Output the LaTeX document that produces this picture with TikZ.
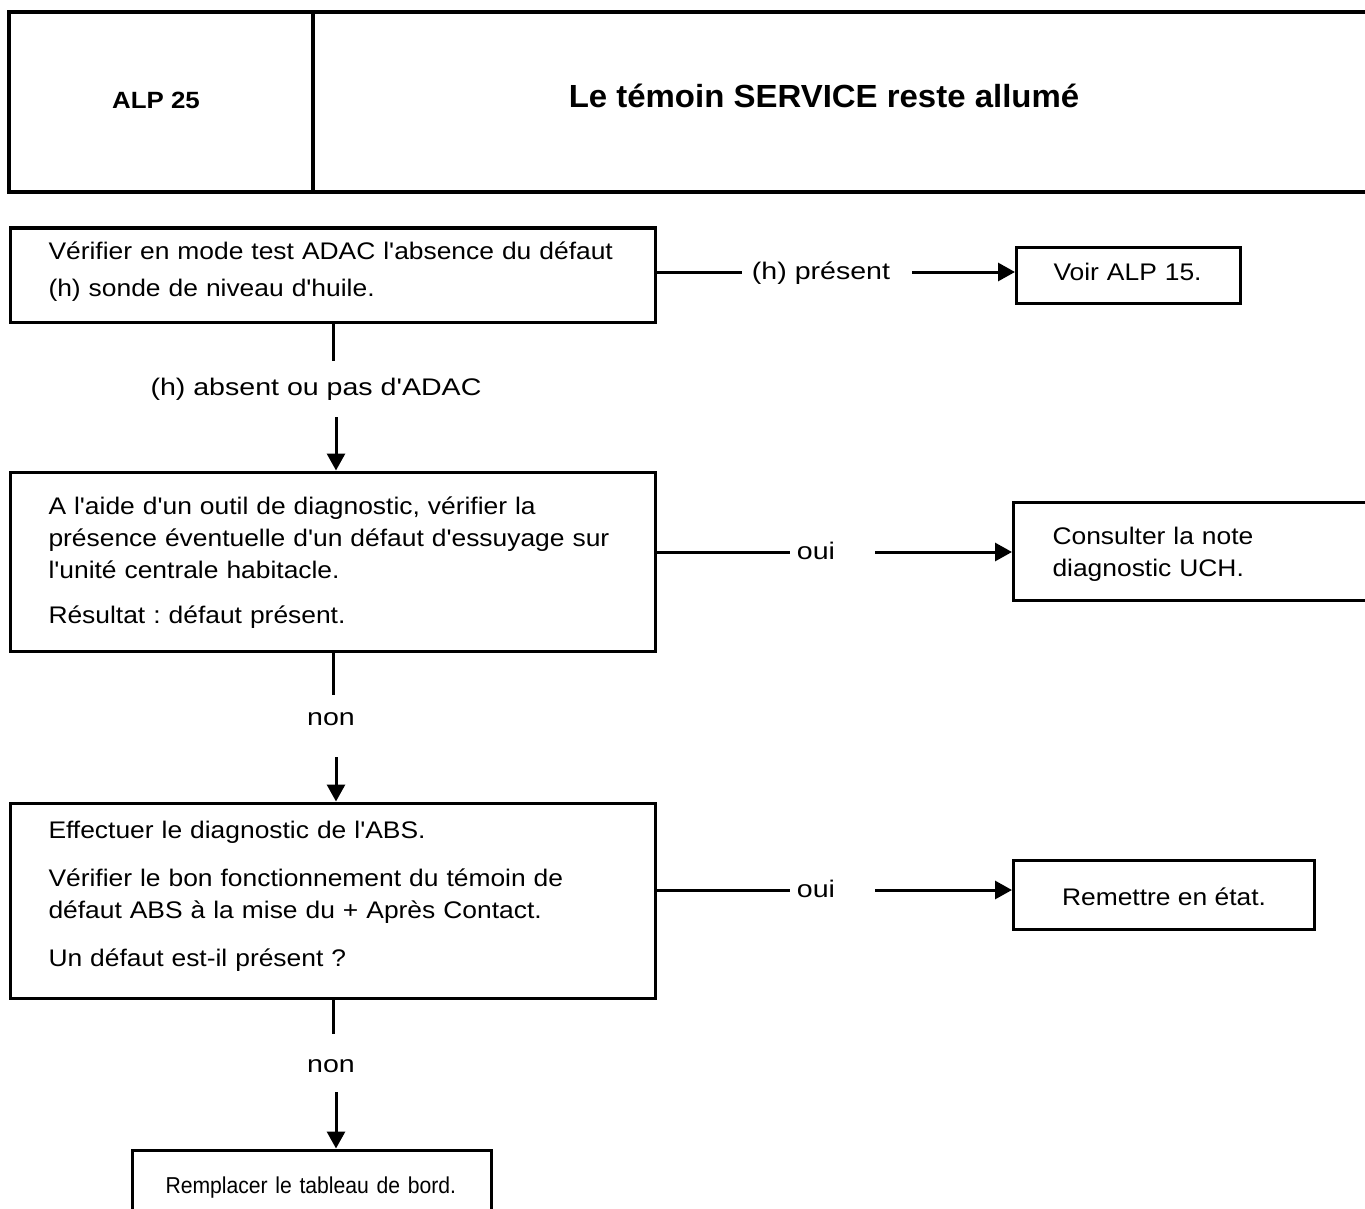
\documentclass[tikz,border=0pt]{standalone}
\usepackage{fontspec}
\setmainfont{Liberation Sans}[FakeStretch=1.10,Ligatures=TeXOff]
\newfontfamily\headfont{Liberation Sans}[FakeStretch=1.03,Ligatures=TeXOff]
\newfontfamily\lblfont{Liberation Sans}[FakeStretch=1.19,Ligatures=TeXOff]
\newfontfamily\narrowfont{Liberation Sans}[FakeStretch=0.92,Ligatures=TeXOff]
\usetikzlibrary{arrows.meta}
\newcommand{\bodysize}{\fontsize{24}{32}\selectfont\frenchspacing\hyphenpenalty=10000 }

\begin{document}
\begin{tikzpicture}[x=1pt,y=-1pt,
  conn/.style={line width=3pt},
  arr/.style={line width=3pt,-{Triangle[length=17pt,width=18pt]}},
  box/.style={draw,line width=3pt,inner ysep=0pt,font=\bodysize},
  tbox/.style={box,align=left,text width=#1},
  lbl/.style={font=\bodysize\lblfont,inner xsep=0pt,inner ysep=0pt,text height=17pt,text depth=3pt},
]
\useasboundingbox (0,0) rectangle (1365,1209);
\clip (0,0) rectangle (1365,1209);

% title block
\draw[line width=3.5pt] (9,12) rectangle (1390,192);
\draw[line width=3.5pt] (313,12) -- (313,192);
\node[anchor=base,inner sep=0pt,font=\fontsize{23.5}{28}\selectfont\bfseries] (code) at (156,109) {ALP 25};
\node[anchor=base,inner sep=0pt,font=\headfont\fontsize{32}{36}\selectfont\bfseries] (title) at (824,108) {Le témoin SERVICE reste allumé};

% step 1
\node[tbox=569pt,inner xsep=38pt,text height=31pt,text depth=63pt,anchor=base west] (b1) at (9,259)
  {Vérifier en mode test ADAC l'absence du défaut\\[5pt](h) sonde de niveau d'huile.};
\node[tbox=170pt,inner xsep=27pt,text height=33pt,text depth=23pt,anchor=base west] (v1) at (1015,280)
  {\hspace*{10pt}Voir ALP 15.};
\node[lbl] (l1) at (821,272) {(h) présent};
\draw[conn] (b1.east |- l1.west) -- ([xshift=-10pt]l1.west);
\draw[arr] ([xshift=22pt]l1.east) -- (v1.west |- l1.east);

\node[lbl] (l2) at (316,388) {(h) absent ou pas d'ADAC};
\draw[conn] (b1.south) -- ++(0,37);
\coordinate (a2) at (336,417);

% step 2
\node[tbox=569pt,inner xsep=38pt,text height=42.5pt,text depth=136.5pt,anchor=base west] (b2) at (9,514.5)
  {A l'aide d'un outil de diagnostic, vérifier la\\présence éventuelle d'un défaut d'essuyage sur\\l'unité centrale habitacle.\\[12.5pt]Résultat : défaut présent.};
\draw[arr] (a2) -- (a2 |- b2.north);
\node[tbox=290pt,inner xsep=39pt,text height=42pt,text depth=56pt,anchor=base west] (u1) at (1012,544)
  {Consulter la note\\diagnostic UCH.};
\node[lbl] (o1) at (816,552) {oui};
\draw[conn] (b2.east |- o1.west) -- ([xshift=-7pt]o1.west);
\draw[arr] ([xshift=40pt]o1.east) -- (u1.west |- o1.east);

\node[lbl] (n1) at (331,718) {non};
\draw[conn] (b2.south) -- ++(0,42);
\coordinate (a3) at (336,757);

% step 3
\node[tbox=569pt,inner xsep=38pt,text height=35.5pt,text depth=159.5pt,anchor=base west] (b3) at (9,838.5)
  {Effectuer le diagnostic de l'ABS.\\[16pt]Vérifier le bon fonctionnement du témoin de\\défaut ABS à la mise du + Après Contact.\\[16pt]Un défaut est-il présent ?};
\draw[arr] (a3) -- (a3 |- b3.north);
\node[box,minimum width=301pt,text height=45pt,text depth=24pt,anchor=base west] (r1) at (1012,905)
  {Remettre en état.};
\node[lbl] (o2) at (816,890) {oui};
\draw[conn] (b3.east |- o2.west) -- ([xshift=-7pt]o2.west);
\draw[arr] ([xshift=40pt]o2.east) -- (r1.west |- o2.east);

\node[lbl] (n2) at (331,1065) {non};
\draw[conn] (b3.south) -- ++(0,34);
\coordinate (a4) at (336,1092);

% step 4
\node[tbox=293pt,inner xsep=33pt,text height=43pt,text depth=47pt,anchor=base west,font=\fontsize{23}{30}\selectfont\narrowfont] (b4) at (131,1193)
  {Remplacer le tableau de bord.};
\draw[arr] (a4) -- (a4 |- b4.north);
\end{tikzpicture}
\end{document}
